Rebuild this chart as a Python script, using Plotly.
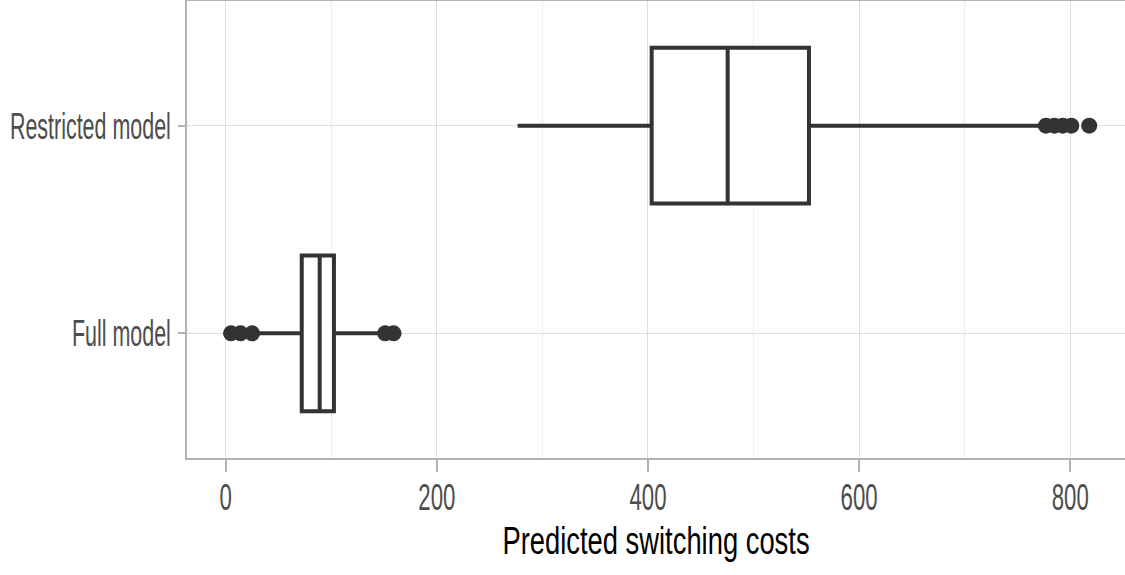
import plotly.graph_objects as go

categories = ["Restricted model", "Full model"]
q1 = [403.5, 72.0]
median = [475.5, 89.0]
q3 = [552.5, 102.5]
lower_fence = [276.5, 30.5]
upper_fence = [772.0, 146.0]
outliers_restricted = [777, 785, 793, 801, 818]
outliers_full = [5, 14, 25, 151, 159]

x_ticks = [0, 200, 400, 600, 800]
x_title = "Predicted switching costs"

FONT = "Liberation Sans, Arial, sans-serif"
DARK = "#333333"

fig = go.Figure()
fig.add_trace(go.Box(
    y=categories, q1=q1, median=median, q3=q3,
    lowerfence=lower_fence, upperfence=upper_fence,
    orientation="h", width=0.75, whiskerwidth=0,
    fillcolor="white", line=dict(color=DARK, width=4),
    boxpoints=False, showlegend=False, hoverinfo="skip",
))
fig.add_trace(go.Scatter(
    x=outliers_restricted + outliers_full,
    y=[categories[0]] * len(outliers_restricted) + [categories[1]] * len(outliers_full),
    mode="markers", marker=dict(color=DARK, size=16),
    showlegend=False, hoverinfo="skip",
))

fig.update_layout(
    width=1125, height=575,
    margin=dict(l=187, r=0, t=1, b=117),
    paper_bgcolor="white", plot_bgcolor="white",
    font=dict(family=FONT),
    xaxis=dict(
        range=[-36.7, 851.9], tickvals=x_ticks, ticktext=[str(v) for v in x_ticks],
        showgrid=True, gridcolor="#dedede", gridwidth=1,
        minor=dict(dtick=100, tick0=0, showgrid=True, gridcolor="#eeeeee", gridwidth=1),
        showline=True, linecolor="#b3b3b3", linewidth=1.5, mirror=True,
        ticks="outside", ticklen=12, tickcolor="#b3b3b3", tickwidth=1.5,
        tickfont=dict(size=37, color="#4d4d4d", family=FONT),
        ticklabelstandoff=-6,
        title=dict(text=x_title, font=dict(size=38, color="black", family=FONT), standoff=10),
        zeroline=False, automargin=False,
    ),
    yaxis=dict(
        type="category", categoryorder="array", categoryarray=["Full model", "Restricted model"],
        range=[-0.6, 1.6],
        showgrid=True, gridcolor="#dedede", gridwidth=1,
        showline=True, linecolor="#b3b3b3", linewidth=1.5, mirror=False,
        ticks="outside", ticklen=7, tickcolor="#b3b3b3", tickwidth=1.5,
        tickfont=dict(size=37, color="#4d4d4d", family=FONT),
        zeroline=False, automargin=False,
    ),
)

post_js = """
document.body.style.margin = '0';
var gd = document.getElementById('{plot_id}');
function squeeze() {
  var groups = [['.xtick text', 0.6], ['.ytick text', 0.58], ['.g-xtitle text', 0.72]];
  groups.forEach(function (g) {
    gd.querySelectorAll(g[0]).forEach(function (t) {
      if (t.getAttribute('data-sq')) return;
      var x = parseFloat(t.getAttribute('x')) || 0;
      var tr = t.getAttribute('transform') || '';
      t.setAttribute('transform', tr + ' translate(' + x + ',0) scale(' + g[1] + ',1) translate(' + (-x) + ',0)');
      t.setAttribute('data-sq', '1');
    });
  });
}
squeeze();
gd.on('plotly_afterplot', squeeze);
"""

fig.write_html("out.html", post_script=post_js, config={"displayModeBar": False})
